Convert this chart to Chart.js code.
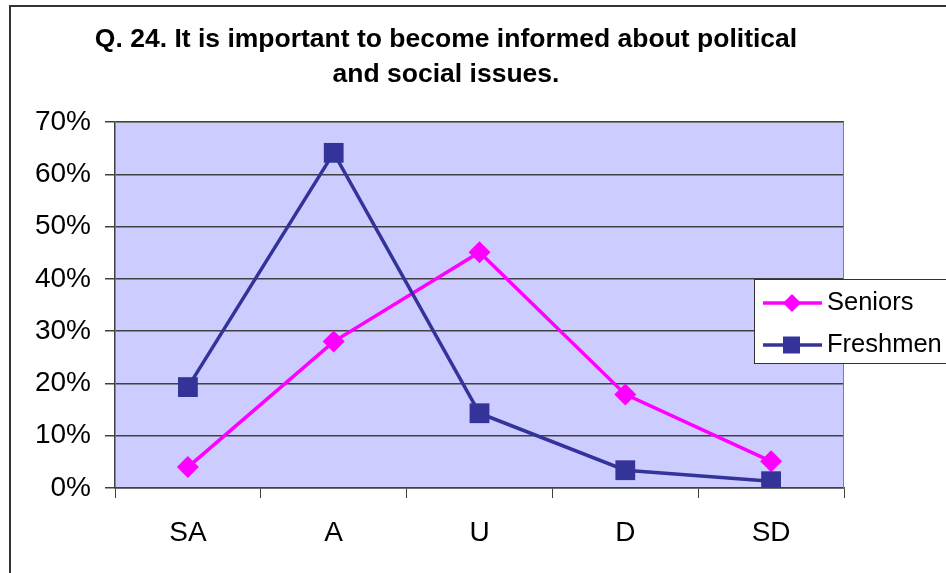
<!DOCTYPE html>
<html>
<head>
<meta charset="utf-8">
<script src="https://cdn.jsdelivr.net/npm/chart.js@4/dist/chart.umd.min.js"></script>
<style>
  html, body { margin: 0; padding: 0; background: #fff; }
  #wrap { width: 946px; height: 573px; position: relative; }
</style>
</head>
<body>
<div id="wrap"><canvas id="c" width="946" height="573"></canvas></div>
<script>
const titleLines = ["Q. 24. It is important to become informed about political", "and social issues."];
const categories = ["SA", "A", "U", "D", "SD"];
const seniors = [4.0, 28.0, 45.1, 17.9, 5.1];
const freshmen = [19.3, 64.1, 14.3, 3.4, 1.3];
const yTicks = [0, 10, 20, 30, 40, 50, 60, 70];
const seriesNames = ["Seniors", "Freshmen"];
const FONT = "'Liberation Sans', Arial, sans-serif";

const decor = {
  id: 'decor',
  beforeDraw(chart) {
    const { ctx, chartArea: a } = chart;
    ctx.save();
    ctx.fillStyle = '#fff';
    ctx.fillRect(0, 0, chart.width, chart.height);
    ctx.fillStyle = '#CCCCFF';
    ctx.fillRect(a.left, a.top, a.right - a.left, a.bottom - a.top);
    // outer border
    ctx.strokeStyle = '#333';
    ctx.lineWidth = 2;
    ctx.beginPath();
    ctx.moveTo(960, 6); ctx.lineTo(10, 6); ctx.lineTo(10, 600);
    ctx.stroke();
    // title
    ctx.fillStyle = '#000';
    ctx.font = "bold 26.5px " + FONT;
    ctx.textAlign = 'center';
    ctx.textBaseline = 'middle';
    ctx.fillText(titleLines[0], 446, 40);
    ctx.fillText(titleLines[1], 446, 75);
    ctx.restore();
  },
  beforeDatasetsDraw(chart) {
    const { ctx, chartArea: a } = chart;
    ctx.save();
    ctx.strokeStyle = '#808080';
    ctx.lineWidth = 1;
    ctx.beginPath();
    ctx.moveTo(a.left, a.top + 0.5);
    ctx.lineTo(a.right - 0.5, a.top + 0.5);
    ctx.lineTo(a.right - 0.5, a.bottom);
    ctx.stroke();
    ctx.restore();
  },
  afterDraw(chart) {
    const { ctx } = chart;
    ctx.save();
    // legend box
    ctx.fillStyle = '#fff';
    ctx.fillRect(754, 279, 200, 84);
    ctx.strokeStyle = '#333';
    ctx.lineWidth = 1;
    ctx.strokeRect(754.5, 279.5, 200, 84);
    const rows = [303, 345];
    chart.data.datasets.forEach((ds, i) => {
      const y = rows[i];
      ctx.strokeStyle = ds.borderColor;
      ctx.lineWidth = 3.5;
      ctx.beginPath();
      ctx.moveTo(763, y); ctx.lineTo(822, y);
      ctx.stroke();
      ctx.fillStyle = ds.borderColor;
      ctx.beginPath();
      if (ds.pointStyle === 'rectRot') {
        ctx.moveTo(792 - 9, y); ctx.lineTo(792, y - 9); ctx.lineTo(792 + 9, y); ctx.lineTo(792, y + 9);
      } else {
        ctx.rect(783, y - 8.5, 17, 17);
      }
      ctx.closePath();
      ctx.fill();
      ctx.fillStyle = '#000';
      ctx.font = "25.5px " + FONT;
      ctx.textAlign = 'left';
      ctx.textBaseline = 'middle';
      ctx.fillText(ds.label, 827, y);
    });
    ctx.restore();
  }
};

new Chart(document.getElementById('c'), {
  type: 'line',
  data: {
    labels: categories,
    datasets: [
      {
        label: seriesNames[0], data: seniors, order: 1,
        borderColor: '#FF00FF', backgroundColor: '#FF00FF',
        borderWidth: 3.5, pointStyle: 'rectRot', pointRadius: 11,
        pointBorderWidth: 0, pointHoverRadius: 11, tension: 0
      },
      {
        label: seriesNames[1], data: freshmen, order: 0,
        borderColor: '#333399', backgroundColor: '#333399',
        borderWidth: 3.5, pointStyle: 'rect', pointRadius: 14,
        pointBorderWidth: 0, pointHoverRadius: 14, tension: 0
      }
    ]
  },
  options: {
    responsive: false,
    animation: false,
    devicePixelRatio: 1,
    layout: { padding: { top: 122, left: 0, right: 102, bottom: 0 } },
    plugins: { legend: { display: false }, title: { display: false }, tooltip: { enabled: false } },
    events: [],
    scales: {
      x: {
        type: 'category',
        offset: true,
        grid: { offset: true, drawOnChartArea: false, drawTicks: true, tickLength: 10, color: '#404040', lineWidth: 1 },
        border: { color: '#404040', width: 1.5 },
        ticks: { color: '#000', font: { family: FONT, size: 28 }, padding: 18, maxRotation: 0 },
        afterFit(s) { s.height = 85; }
      },
      y: {
        min: yTicks[0], max: yTicks[yTicks.length - 1],
        afterBuildTicks(s) { s.ticks = yTicks.map(v => ({ value: v })); },
        grid: { color: '#404040', lineWidth: 1.5, tickLength: 10, drawTicks: true },
        border: { color: '#404040', width: 1.5 },
        ticks: { color: '#000', font: { family: FONT, size: 28 }, padding: 14, callback: v => v + '%' },
        afterFit(s) { s.width = 115; }
      }
    }
  },
  plugins: [decor]
});
</script>
</body>
</html>
